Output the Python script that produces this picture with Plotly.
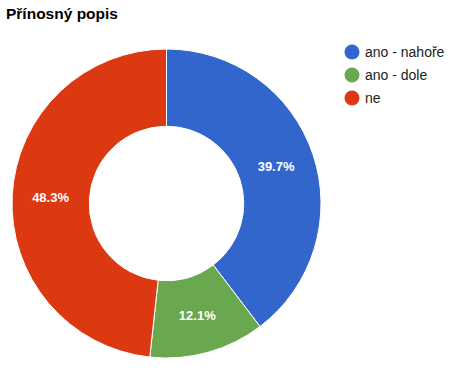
import plotly.graph_objects as go

categories = ["ano - nahoře", "ano - dole", "ne"]
counts = [23, 7, 28]
colors = ["#3366CC", "#6AA84F", "#DC3912"]
title_text = "Přínosný popis"

W, H = 452, 374
FONT = "Liberation Sans, Arial"
fig = go.Figure()
fig.add_trace(go.Pie(
    labels=categories, values=counts, hole=0.5, sort=False, direction="clockwise",
    rotation=0, marker=dict(colors=colors, line=dict(color="white", width=1)),
    texttemplate="<b>%{percent:.1%}</b>", textposition="inside",
    insidetextorientation="horizontal",
    textfont=dict(family=FONT, size=13, color="white"),
    domain=dict(x=[12 / W, 321 / W], y=[(H - 361) / H, (H - 46) / H]),
    showlegend=False, hoverinfo="label+percent",
))

# legend drawn as swatch circles + text (Google-Charts style)
leg_x, leg_y0, leg_dy, r = 352, 52, 23, 7.5
for i, (name, col) in enumerate(zip(categories, colors)):
    yc = leg_y0 + i * leg_dy
    fig.add_shape(type="circle", xref="paper", yref="paper",
                  x0=(leg_x - r) / W, x1=(leg_x + r) / W,
                  y0=1 - (yc + r) / H, y1=1 - (yc - r) / H,
                  fillcolor=col, line=dict(width=0))
    fig.add_annotation(text=name, xref="paper", yref="paper",
                       x=(leg_x + r + 3) / W, y=1 - yc / H,
                       xanchor="left", yanchor="middle", showarrow=False,
                       font=dict(family=FONT, size=14, color="#222222"))

fig.update_layout(
    width=W, height=H, margin=dict(l=0, r=0, t=0, b=0),
    paper_bgcolor="white", plot_bgcolor="white",
    showlegend=False,
    title=dict(text="<b>" + title_text + "</b>", x=6 / W, xanchor="left",
               y=1 - 8 / H, yanchor="top",
               font=dict(family=FONT, size=15.5, color="#000000")),
)
fig.write_html("out.html", config={"displayModeBar": False},
               post_script="document.body.style.margin='0px';")
